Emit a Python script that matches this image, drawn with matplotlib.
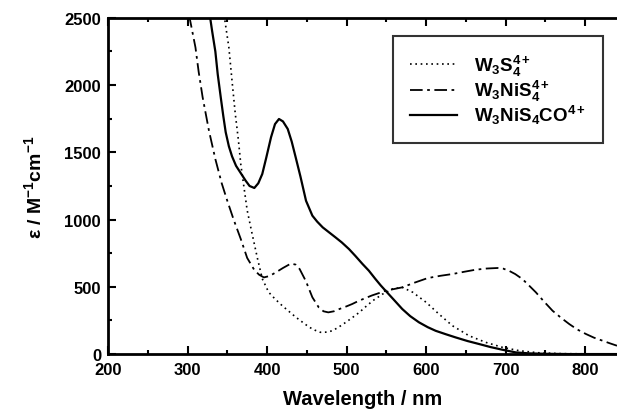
import numpy as np
import matplotlib
matplotlib.use("Agg")
import matplotlib.pyplot as plt

plt.rcParams['font.family'] = ['Liberation Sans', 'DejaVu Sans']
plt.rcParams['font.weight'] = 'bold'
plt.rcParams['mathtext.fontset'] = 'custom'
plt.rcParams['mathtext.rm'] = 'Liberation Sans:bold'
plt.rcParams['mathtext.it'] = 'Liberation Sans:bold'
plt.rcParams['mathtext.bf'] = 'Liberation Sans:bold'
plt.rcParams['mathtext.default'] = 'rm'

# W3S4 4+ (dotted)
wl_s4 = [346, 352, 356, 360, 364, 367, 371, 375, 381, 388, 394, 402, 410, 419, 428,
         436, 445, 453, 460, 467, 475, 482, 490, 499, 507, 516, 524, 533, 545, 558,
         570, 583, 600, 616, 633, 654, 675, 696, 717, 740, 770, 840]
eps_s4 = [2520, 2280, 2030, 1790, 1590, 1410, 1240, 1070, 900, 710, 560, 460, 410, 360, 315,
          275, 235, 200, 178, 162, 163, 173, 200, 236, 270, 310, 352, 397, 445, 485,
          496, 460, 385, 298, 211, 136, 87, 50, 25, 10, 3, 0]

# W3NiS4 4+ (dash-dot)
wl_ni = [302, 306, 310, 314, 319, 327, 335, 343, 350, 358, 367, 375, 384, 390, 396,
         403, 411, 420, 430, 436, 441, 449, 457, 465, 471, 477, 484, 491, 500, 507,
         515, 524, 532, 541, 549, 560, 570, 585, 602, 618, 633, 648, 662, 676, 690,
         697, 704, 712, 721, 729, 738, 748, 759, 770, 780, 790, 801, 811, 822, 831, 840]
eps_ni = [2520, 2400, 2280, 2100, 1910, 1660, 1450, 1270, 1140, 1000, 855, 715, 625, 590, 570,
          580, 607, 640, 673, 665, 632, 540, 422, 347, 318, 310, 318, 335, 355, 372,
          395, 417, 436, 454, 471, 484, 496, 530, 565, 582, 595, 612, 627, 636, 640,
          635, 620, 595, 558, 512, 459, 392, 322, 268, 223, 183, 149, 122, 99, 80, 62]

# W3NiS4CO 4+ (solid)
wl_co = [328, 331, 335, 338, 342, 345, 348, 352, 356, 361, 367, 373, 378, 384, 389,
         394, 399, 405, 410, 415, 420, 426, 431, 436, 442, 449, 457, 463, 470, 478,
         486, 494, 503, 511, 520, 528, 536, 543, 549, 560, 570, 580, 591, 602, 612,
         625, 637, 652, 667, 681, 696, 713, 730, 750, 780, 840]
eps_co = [2520, 2400, 2250, 2080, 1900, 1770, 1650, 1545, 1470, 1400, 1345, 1290, 1250, 1235, 1270,
          1339, 1460, 1612, 1710, 1748, 1730, 1674, 1580, 1463, 1320, 1140, 1029, 985, 942, 905,
          868, 830, 781, 730, 670, 620, 560, 510, 471, 400, 335, 282, 236, 200, 173,
          147, 124, 97, 74, 52, 32, 12, 5, 2, 0, 0]

labels = [r'W$_3$S$_4^{4+}$', r'W$_3$NiS$_4^{4+}$', r'W$_3$NiS$_4$CO$^{4+}$']

fig = plt.figure(figsize=(6.17, 4.10), dpi=100)
ax = fig.add_axes([0.175, 0.134, 0.825, 0.82])

ax.plot(wl_s4, eps_s4, color='black', lw=1.2, linestyle=(0, (1, 2.2)), label=labels[0])
ax.plot(wl_ni, eps_ni, color='black', lw=1.3, linestyle=(0, (7, 2.5, 1.5, 2.5)), label=labels[1])
ax.plot(wl_co, eps_co, color='black', lw=1.6, linestyle='-', label=labels[2])

ax.set_xlim(200, 840)
ax.set_ylim(0, 2500)
ax.set_xticks([200, 300, 400, 500, 600, 700, 800])
ax.set_xticks(np.arange(250, 840, 100), minor=True)
ax.set_yticks([0, 500, 1000, 1500, 2000, 2500])
ax.set_yticks(np.arange(250, 2500, 500), minor=True)
ax.tick_params(which='both', direction='in', top=True, right=False, width=1.5,
               labelsize=12)
ax.tick_params(which='major', length=6)
ax.tick_params(which='minor', length=3)
ax.tick_params(axis='x', which='major', pad=6)
ax.tick_params(axis='y', which='major', pad=5)
ax.spines['right'].set_visible(False)
for s in ['left', 'bottom', 'top']:
    ax.spines[s].set_linewidth(2)

ax.set_xlabel('Wavelength / nm', fontsize=14.5, fontweight='bold', labelpad=8)
ax.set_ylabel(r'ε / M$^{-1}$cm$^{-1}$', fontsize=14, fontweight='bold', labelpad=14)

leg = ax.legend(loc='upper right', bbox_to_anchor=(0.972, 0.946), fontsize=13.5,
                frameon=True, fancybox=False, handlelength=2.5, borderpad=0.9,
                labelspacing=0.0, handletextpad=0.9, borderaxespad=0)
leg.get_frame().set_edgecolor('black')
leg.get_frame().set_linewidth(1.5)

fig.savefig('out.png', dpi=100)
